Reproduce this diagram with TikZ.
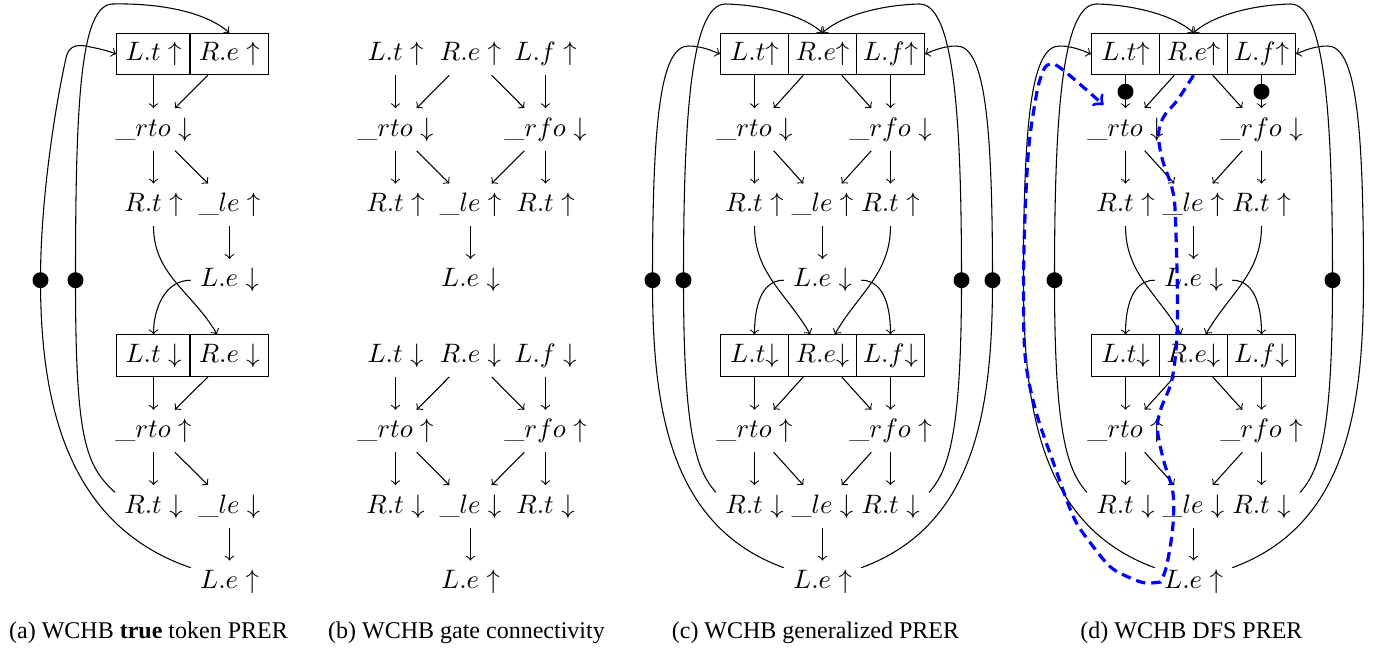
\documentclass[tikz,border=0pt]{standalone}
\usepackage{fontspec}
\newfontfamily\capfont{Liberation Serif}
\tikzset{
  bx/.style={draw, line width=0.4pt},
  bxc/.style={draw, line width=0.4pt, inner xsep=1pt, minimum width=25.5pt},
  bdot/.style={circle, fill=black, inner sep=0pt, minimum size=6pt},
  arr/.style={->, line width=0.4pt},
  captxt/.style={font=\capfont\fontsize{9}{11}\selectfont},
  dfs/.style={blue, line width=1.2pt, dash pattern=on 3.6pt off 2.2pt, ->}
}
\newcommand\cdpanel[1]{%
\node[bxc] (#1Lt1) at (754,-54) {$L.t{\uparrow}$};
\node[bxc] (#1Re1) at (822,-54) {$R.e{\uparrow}$};
\node[bxc] (#1Lf1) at (890,-54) {$L.f{\uparrow}$};
\node (#1rto1) at (754,-129.4) {$\_rto\downarrow$};
\node (#1rfo1) at (890,-129.4) {$\_rfo\downarrow$};
\node (#1Rt1) at (754,-204.8) {$R.t\uparrow$};
\node (#1le1) at (822,-204.8) {$\_le\uparrow$};
\node (#1Rf1) at (890,-204.8) {$R.t\uparrow$};
\node (#1Le1) at (822,-280.2) {$L.e\downarrow$};
\node[bxc] (#1Lt2) at (754,-355.6) {$L.t{\downarrow}$};
\node[bxc] (#1Re2) at (822,-355.6) {$R.e{\downarrow}$};
\node[bxc] (#1Lf2) at (890,-355.6) {$L.f{\downarrow}$};
\node (#1rto2) at (754,-431) {$\_rto\uparrow$};
\node (#1rfo2) at (890,-431) {$\_rfo\uparrow$};
\node (#1Rt2) at (754,-506.4) {$R.t\downarrow$};
\node (#1le2) at (822,-506.4) {$\_le\downarrow$};
\node (#1Rf2) at (890,-506.4) {$R.t\downarrow$};
\node (#1Le2) at (822,-581.8) {$L.e\uparrow$};
\foreach \k in {1,2}{
  \draw[arr] (#1Lt\k) -- (#1rto\k);
  \draw[arr] (#1Re\k) -- (#1rto\k);
  \draw[arr] (#1Re\k) -- (#1rfo\k);
  \draw[arr] (#1Lf\k) -- (#1rfo\k);
  \draw[arr] (#1rto\k) -- (#1Rt\k);
  \draw[arr] (#1rto\k) -- (#1le\k);
  \draw[arr] (#1rfo\k) -- (#1le\k);
  \draw[arr] (#1rfo\k) -- (#1Rf\k);
  \draw[arr] (#1le\k) -- (#1Le\k);
}
\draw[arr] (#1Rt1) to[out=-90,in=120] (#1Re2);
\draw[arr] (#1Rf1) to[out=-90,in=60] (#1Re2);
\draw[arr] (#1Le1) to[out=180,in=90] (#1Lt2);
\draw[arr] (#1Le1) to[out=0,in=90] (#1Lf2);
\coordinate (#1P1) at (652,-280.2);
\coordinate (#1P2) at (683,-280.2);
\coordinate (#1P3) at (961,-280.2);
\coordinate (#1P4) at (992,-280.2);
\draw[arr] (#1Le2.160) to[out=160,in=-90] (#1P1) .. controls (652,-120) and (660,-46) .. (688,-46) .. controls (700,-46) and (710,-50) .. (#1Lt1.west);
\draw[arr] (#1Le2.20) to[out=20,in=-90] (#1P4) .. controls (992,-120) and (984,-46) .. (956,-46) .. controls (944,-46) and (934,-50) .. (#1Lf1.east);
\draw[arr] (#1Rt2.160) .. controls (695,-470) and (683,-430) .. (#1P2) .. controls (683,-120) and (690,-4) .. (725,-4) .. controls (765,-5) and (803,-16) .. (#1Re1.north);
\draw[arr] (#1Rf2.20) .. controls (949,-470) and (961,-430) .. (#1P3) .. controls (961,-120) and (954,-4) .. (919,-4) .. controls (879,-5) and (841,-16) .. (#1Re1.north);
}
\begin{document}
\begin{tikzpicture}[x=0.375pt,y=0.375pt]
\useasboundingbox (-0.5,0) rectangle (1382.5,-650);
% ---------- panel (a)
\node[bx] (aLt1) at (153,-54) {$L.t\uparrow$};
\node[bx] (aRe1) at (228.8,-54) {$R.e\uparrow$};
\node (arto1) at (153,-129.4) {$\_rto\downarrow$};
\node (aRt1) at (153,-204.8) {$R.t\uparrow$};
\node (ale1) at (229,-204.8) {$\_le\uparrow$};
\node (aLe1) at (229,-280.2) {$L.e\downarrow$};
\node[bx] (aLt2) at (153,-355.6) {$L.t\downarrow$};
\node[bx] (aRe2) at (228.8,-355.6) {$R.e\downarrow$};
\node (arto2) at (153,-431) {$\_rto\uparrow$};
\node (aRt2) at (153,-506.4) {$R.t\downarrow$};
\node (ale2) at (229,-506.4) {$\_le\downarrow$};
\node (aLe2) at (229,-581.8) {$L.e\uparrow$};
\foreach \k in {1,2}{
  \draw[arr] (aLt\k) -- (arto\k);
  \draw[arr] (aRe\k) -- (arto\k);
  \draw[arr] (arto\k) -- (aRt\k);
  \draw[arr] (arto\k) -- (ale\k);
  \draw[arr] (ale\k) -- (aLe\k);
}
\draw[arr] (aRt1) to[out=-90,in=120] (aRe2);
\draw[arr] (aLe1) to[out=180,in=90] (aLt2);
\coordinate (aP1) at (40,-280.2);
\coordinate (aP2) at (75,-280.2);
\draw[arr] (aLe2.160) .. controls (65,-525) and (40,-400) .. (aP1) .. controls (40,-190) and (58,-90) .. (66,-56) .. controls (69,-45) and (78,-44) .. (90,-47) .. controls (100,-49) and (108,-51) .. (aLt1.west);
\draw[arr] (aRt2.160) .. controls (85,-465) and (75,-440) .. (aP2) .. controls (75,-100) and (80,-5) .. (112,-4) .. controls (160,-3) and (205,-12) .. (aRe1.north);
\node[bdot] (aD1) at (aP1) {};
\node[bdot] (aD2) at (aP2) {};
\node[captxt] (capa) at (148,-633) {(a) WCHB \textbf{true} token PRER};
% ---------- panel (b)
\foreach \k/\ya/\yb/\yc/\yd/\ar/\br in {1/-54/-129.4/-204.8/-280.2/\uparrow/\downarrow, 2/-355.6/-431/-506.4/-581.8/\downarrow/\uparrow}{
  \node (bLt\k) at (395,\ya) {$L.t\ar$};
  \node (bRe\k) at (470,\ya) {$R.e\ar$};
  \node (bLf\k) at (545,\ya) {$L.f\ar$};
  \node (brto\k) at (395,\yb) {$\_rto\br$};
  \node (brfo\k) at (545,\yb) {$\_rfo\br$};
  \node (bRt\k) at (395,\yc) {$R.t\ar$};
  \node (ble\k) at (470,\yc) {$\_le\ar$};
  \node (bRf\k) at (545,\yc) {$R.t\ar$};
  \node (bLe\k) at (470,\yd) {$L.e\br$};
  \draw[arr] (bLt\k) -- (brto\k);
  \draw[arr] (bRe\k) -- (brto\k);
  \draw[arr] (bRe\k) -- (brfo\k);
  \draw[arr] (bLf\k) -- (brfo\k);
  \draw[arr] (brto\k) -- (bRt\k);
  \draw[arr] (brto\k) -- (ble\k);
  \draw[arr] (brfo\k) -- (ble\k);
  \draw[arr] (brfo\k) -- (bRf\k);
  \draw[arr] (ble\k) -- (bLe\k);
}
\node[captxt] (capb) at (466,-633) {(b) WCHB gate connectivity};
% ---------- panel (c)
\cdpanel{c}
\node[bdot] (cD1) at (cP1) {};
\node[bdot] (cD2) at (cP2) {};
\node[bdot] (cD3) at (cP3) {};
\node[bdot] (cD4) at (cP4) {};
\node[captxt] (capc) at (815,-633) {(c) WCHB generalized PRER};
% ---------- panel (d)
\begin{scope}[xshift=139.125pt]
\cdpanel{d}
\end{scope}
\node[bdot] (dD2) at (dP2) {};
\node[bdot] (dD3) at (dP3) {};
\path (dLt1) -- node[bdot] (dD5) {} (drto1);
\path (dLf1) -- node[bdot] (dD6) {} (drfo1);
\coordinate (dEnd) at (1103,-105);
\draw[dfs] plot[smooth, tension=0.55] coordinates {(dRe1.south) (1177,-100) (1163,-117) (1158,-135) (1162,-160) (1172,-190) (1175,-220) (1177,-320) (1172,-377) (1160,-410) (1157,-430) (1163,-460) (1172,-490) (1173,-517) (1170,-545) (1165,-570) (1160,-582)}
  -- plot[smooth, tension=0.55] coordinates {(1160,-582) (1145,-583) (1130,-578) (1110,-567) (1090,-543) (1073,-517) (1053,-463) (1035,-410) (1025,-360) (1023,-300) (1024,-230) (1028,-150) (1035,-100) (1040,-78) (1047,-65) (1060,-68) (dEnd)};
\node[captxt] (capd) at (1191,-633) {(d) WCHB DFS PRER};
\end{tikzpicture}
\end{document}
